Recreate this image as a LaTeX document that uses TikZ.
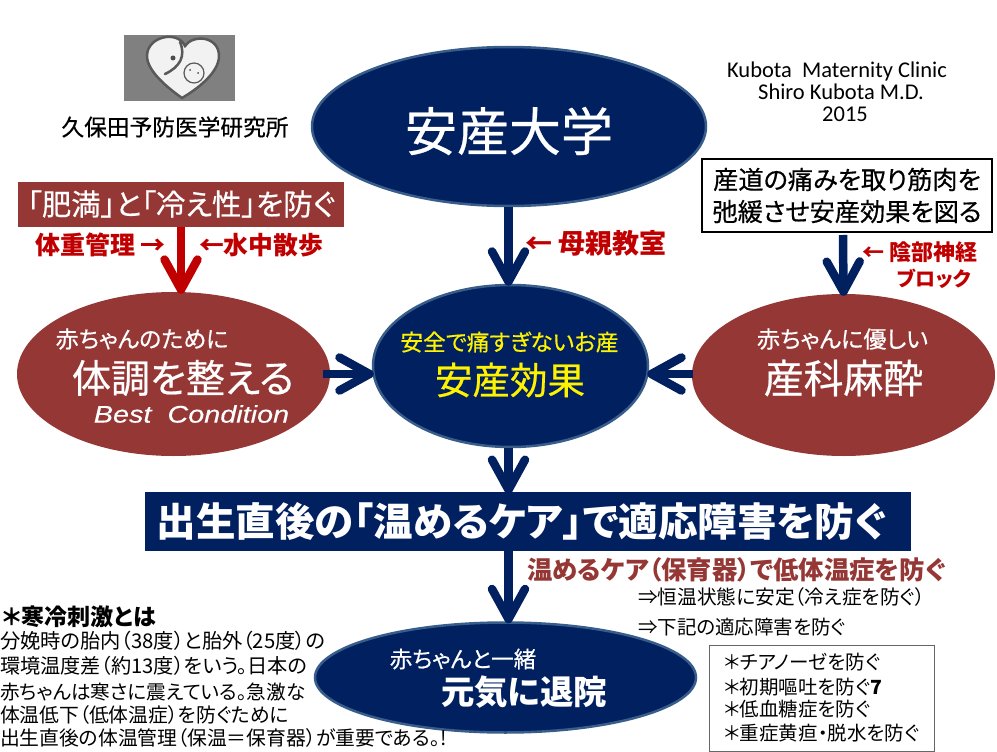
\documentclass[tikz,border=0pt]{standalone}
\usepackage{fontspec}
\setmainfont{Noto Sans CJK JP}[RawFeature=+palt]
\newcommand\jpb{\bfseries}
\newfontfamily\medfont{Noto Sans CJK JP}[RawFeature=+palt,FakeBold=0.5]
\newfontfamily\calfont{Carlito}
\newfontfamily\libfont{Liberation Sans}[FakeStretch=1.2,FakeBold=0.3]
\usetikzlibrary{shapes.geometric,arrows.meta}
\definecolor{navy}{HTML}{002060}
\definecolor{edgeblue}{HTML}{385D8A}
\definecolor{brick}{HTML}{953735}
\definecolor{redtxt}{HTML}{C00000}
\newcommand\fs[1]{\fontsize{#1}{#1}\selectfont}
\tikzset{
 x=1pt,y=-1pt,
 navyell/.style={ellipse,draw=edgeblue,line width=2.5pt,fill=navy,inner sep=0pt},
 brickell/.style={ellipse,fill=brick,inner sep=0pt},
 txt/.style={inner sep=0pt,outer sep=0pt},
 ltxt/.style={txt,anchor=west},
 bigarrow/.style={draw=navy,line width=8.5pt,-{Straight Barb[round,length=30pt,width=33pt,line width=8.5pt]},shorten >=-2pt},
 redarrow/.style={bigarrow,draw=redtxt},
}
\begin{document}
\begin{tikzpicture}
\useasboundingbox (0,0) rectangle (997,752);
% logo
\fill[fill=black!50] (124,35) rectangle (235,101);
\draw[fill=white!95!black,draw=black!65,line width=2.5pt]
 (182,98) .. controls (165,86) and (147,70) .. (147,56)
 .. controls (147,36) and (178,30) .. (185,46)
 .. controls (193,34) and (219,36) .. (219,56)
 .. controls (219,72) and (199,88) .. (182,98) -- cycle;
\draw[black!65,line width=2.5pt,line cap=round] (180,42) .. controls (186,56) and (180,67) .. (165,74);
\draw[black!65,fill=white!95!black,line width=1.2pt] (194,73) circle (10);
\fill[black!70] (173,58) circle (2.5) (190,70) circle (1) (198,73) circle (1);
\node[txt,font=\medfont\fs{22.7}] (inst) at (175,127) {久保田予防医学研究所};
% credits
\node[txt,align=center,font=\calfont\fontsize{22.5}{22}\selectfont] (credit) at (837,92) {Kubota\ \ Maternity Clinic\\\hspace*{8pt}Shiro Kubota M.D.\\\hspace*{16pt}2015};
% ellipses
\node[navyell,minimum width=394,minimum height=159] (univ) at (509,126.5) {};
\node[navyell,minimum width=275,minimum height=162] (effect) at (510.5,366) {};
\node[brickell,minimum width=313,minimum height=164] (body) at (173.5,374) {};
\node[brickell,minimum width=303,minimum height=162] (anes) at (843.5,375) {};
\node[navyell,minimum width=381,minimum height=110] (home) at (505.5,677.5) {};
% boxes
\node[txt,fill=brick,minimum width=326,minimum height=45,text=white,font=\medfont\fs{29.4}] (obese) at (181,204) {「肥満」と「冷え性」を防ぐ};
\node[draw=black,line width=1.2pt,fill=white,minimum width=290,minimum height=73,inner sep=0pt,align=center,font=\medfont\fontsize{25.2}{32}\selectfont] (pain) at (847,195.5) {産道の痛みを取り筋肉を\\弛緩させ安産効果を図る};
\node[txt,fill=navy,minimum width=766,minimum height=59,text=white,font=\jpb\fs{39.5}] (care) at (528,521.5) {出生直後の「温めるケア」で適応障害を防ぐ\hspace*{13pt}};
\node[draw=black!60,line width=1pt,minimum width=225,minimum height=106,inner sep=0pt] (prevent) at (821.5,698) {};
% connectors
\coordinate (axis) at (508.5,0);
\draw[bigarrow] (univ.south -| axis) -- (effect.north -| axis);
\draw[redarrow] (obese.south) -- (obese.south |- body.north);
\draw[bigarrow] (843,235) -- (anes.north);
\draw[bigarrow] (323,374) -- (effect.west |- 0,374);
\draw[bigarrow] (693,374) -- (effect.east |- 0,374);
\draw[bigarrow] (effect.south -| axis) -- (care.north -| axis);
\draw[bigarrow] (care.south -| axis) -- (home.north -| axis);
% ellipse text
\node[txt,text=white,font=\medfont\fs{52}] (t1) at (509,131) {安産大学};
\node[txt,text=white,font=\medfont\fs{23}] (t2) at (142,339) {赤ちゃんのために};
\node[txt,text=white,font=\medfont\fs{39}] (t3) at (183,378) {体調を整える};
\node[txt,text=white,font=\libfont\itshape\fs{24}] (t4) at (191.5,414) {Best\ \ Condition};
\node[txt,text=yellow,font=\medfont\fs{22.7}] (t5) at (509.5,342) {安全で痛すぎないお産};
\node[txt,text=yellow,font=\medfont\fs{37.5}] (t6) at (510,380) {安産効果};
\node[txt,text=white,font=\medfont\fs{23.2}] (t7) at (842.5,339) {赤ちゃんに優しい};
\node[txt,text=white,font=\medfont\fs{39.8}] (t8) at (843.5,378) {産科麻酔};
\node[txt,text=white,font=\medfont\fs{22.5}] (t9) at (463,659) {赤ちゃんと一緒};
\node[txt,text=white,font=\jpb\fs{33.4}] (t10) at (524,692) {元気に退院};
% red labels
\node[ltxt,text=redtxt,font=\jpb\fs{25}] (l1) at (35,245) {体重管理 →};
\node[ltxt,text=redtxt,font=\jpb\fs{24.8}] (l2) at (199,245) {←水中散歩};
\node[ltxt,text=redtxt,font=\jpb\fs{27}] (l3) at (525,243) {← 母親教室};
\node[ltxt,text=redtxt,font=\jpb\fs{22}] (l4) at (862,252) {← 陰部神経};
\node[ltxt,text=redtxt,font=\jpb\fs{20}] (l5) at (897,279) {ブロック};
\node[ltxt,text=brick,font=\jpb\fs{25.4}] (l6) at (527,570) {温めるケア（保育器）で低体温症を防ぐ};
% right notes
\node[ltxt,font=\fs{19.7}] (n1) at (638,597) {⇒恒温状態に安定（冷え症を防ぐ）};
\node[ltxt,font=\fs{19.5}] (n2) at (638,627) {⇒下記の適応障害を防ぐ};
\node[ltxt,font=\fs{19.5}] (p1) at (724,662) {＊チアノーゼを防ぐ};
\node[ltxt,font=\fs{19.5}] (p2) at (724,687) {＊初期嘔吐を防ぐ{\jpb 7}};
\node[ltxt,font=\fs{19.5}] (p3) at (724,709) {＊低血糖症を防ぐ};
\node[ltxt,font=\fs{19.5}] (p4) at (724,733) {＊重症黄疸・脱水を防ぐ};
% left notes
\node[ltxt,font=\jpb\fs{23}] (c0) at (3,617) {＊寒冷刺激とは};
\node[ltxt,font=\fs{20.3}] (c1) at (0,641) {分娩時の胎内（38度）と胎外（25度）の};
\node[ltxt,font=\fs{20.2}] (c2) at (0,666) {環境温度差（約13度）をいう。日本の};
\node[ltxt,font=\fs{19.6}] (c3) at (0,692) {赤ちゃんは寒さに震えている。急激な};
\node[ltxt,font=\fs{19.8}] (c4) at (0,715) {体温低下（低体温症）を防ぐために};
\node[ltxt,font=\fs{19.8}] (c5) at (0,738) {出生直後の体温管理（保温＝保育器）が重要である。!};
\end{tikzpicture}
\end{document}
